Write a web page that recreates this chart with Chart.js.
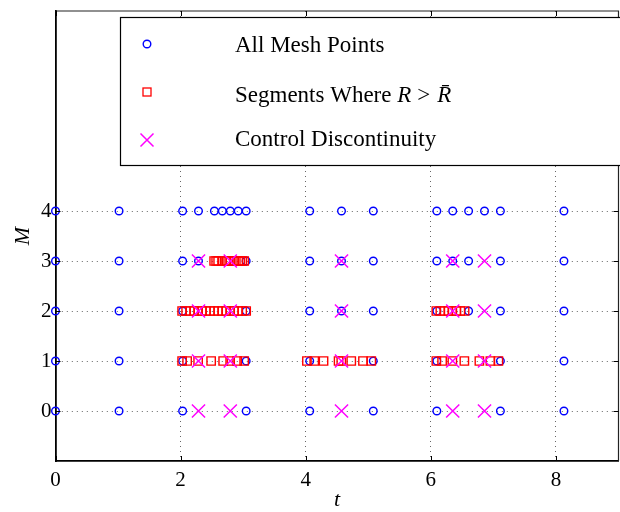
<!DOCTYPE html>
<html>
<head>
<meta charset="utf-8">
<script src="https://cdn.jsdelivr.net/npm/chart.js@4.4.1/dist/chart.umd.min.js"></script>
<style>
  html, body { margin: 0; padding: 0; background: #fff; overflow: hidden; }
  #wrap { width: 620px; height: 512px; }
</style>
</head>
<body>
<div id="wrap"><canvas id="chart" width="620" height="512"></canvas></div>
<script>
// refinement level M and axis ticks
const levels = [0, 1, 2, 3, 4];
const xTicks = [0, 2, 4, 6, 8];

// all mesh points, one list per level
const mesh0 = [0, 1.016, 2.032, 3.048, 4.064, 5.08, 6.096, 7.112, 8.128];
const mesh1 = [0, 1.016, 2.032, 3.048, 4.064, 5.08, 6.096, 7.112, 8.128];
const mesh2 = [0, 1.016, 2.032, 3.048, 4.064, 4.572, 5.08, 6.096, 6.604, 7.112, 8.128];
const mesh3 = [0, 1.016, 2.032, 2.286, 3.048, 4.064, 4.572, 5.08, 6.096, 6.35, 6.604, 7.112, 8.128];
const mesh4 = [0, 1.016, 2.032, 2.286, 2.54, 2.667, 2.794, 2.921, 3.048, 4.064, 4.572, 5.08,
               6.096, 6.35, 6.604, 6.858, 7.112, 8.128];

// segments where R > Rbar
const seg0 = [];
const seg1 = [2.024, 2.104, 2.28, 2.488, 2.68, 2.792, 2.904, 3.016,
              4.019, 4.136, 4.285, 4.525, 4.568, 4.728, 4.915, 5.048,
              6.088, 6.18, 6.344, 6.536, 6.776, 6.952, 7.08];
const seg2 = [2.024, 2.088, 2.152, 2.215, 2.28, 2.343, 2.406, 2.47, 2.536, 2.6, 2.664,
              2.727, 2.792, 2.855, 2.92, 2.984, 3.048,
              6.088, 6.152, 6.216, 6.28, 6.344, 6.408, 6.472, 6.54];
const seg3 = [2.536, 2.568, 2.6, 2.664, 2.727, 2.76, 2.792, 2.855, 2.92, 2.952, 2.984, 3.016];

// control discontinuities
const disc0 = [2.286, 2.794, 4.572, 6.35, 6.858];
const disc1 = [2.286, 2.794, 4.572, 6.35, 6.858];
const disc2 = [2.286, 2.794, 4.572, 6.35, 6.858];
const disc3 = [2.286, 2.794, 4.572, 6.35, 6.858];

const meshRows = [mesh0, mesh1, mesh2, mesh3, mesh4];
const segRows = [seg0, seg1, seg2, seg3];
const discRows = [disc0, disc1, disc2, disc3];

const toPoints = rows => rows.flatMap((row, m) => row.map(t => ({ x: t, y: levels[m] })));

const serif = '"Liberation Serif", "DejaVu Serif", serif';

// MATLAB style box, inward ticks, axis titles and legend
const boxPlugin = {
  id: 'matlabBox',
  afterDraw(chart) {
    const { ctx, chartArea: a, scales: { x, y } } = chart;
    ctx.save();

    ctx.strokeStyle = '#222';
    ctx.lineWidth = 1.2;
    ctx.beginPath();
    ctx.moveTo(a.left, a.top);
    ctx.lineTo(a.right, a.top);
    ctx.lineTo(a.right, a.bottom);
    ctx.stroke();

    ctx.strokeStyle = '#000';
    ctx.lineWidth = 1;
    ctx.beginPath();
    xTicks.forEach(v => {
      const px = Math.round(x.getPixelForValue(v)) + 0.5;
      ctx.moveTo(px, a.bottom); ctx.lineTo(px, a.bottom - 5);
      ctx.moveTo(px, a.top); ctx.lineTo(px, a.top + 5);
    });
    levels.forEach(v => {
      const py = Math.round(y.getPixelForValue(v)) + 0.5;
      ctx.moveTo(a.left, py); ctx.lineTo(a.left + 5, py);
      ctx.moveTo(a.right, py); ctx.lineTo(a.right - 5, py);
    });
    ctx.stroke();

    // axis titles
    ctx.fillStyle = '#000';
    ctx.font = 'italic 22px ' + serif;
    ctx.textAlign = 'center';
    ctx.textBaseline = 'alphabetic';
    ctx.fillText('t', (a.left + a.right) / 2, 506);
    ctx.save();
    ctx.translate(29, (a.top + a.bottom) / 2);
    ctx.rotate(-Math.PI / 2);
    ctx.fillText('M', 0, 0);
    ctx.restore();

    // legend box
    const lx = 120.5, ly = 17.5, lw = 520, lh = 148;
    ctx.fillStyle = '#fff';
    ctx.fillRect(lx, ly, lw, lh);
    ctx.strokeStyle = '#000';
    ctx.lineWidth = 1.2;
    ctx.strokeRect(lx, ly, lw, lh);

    const mx = 147;
    ctx.lineWidth = 1.4;
    ctx.strokeStyle = '#0000ff';
    ctx.beginPath();
    ctx.arc(mx, 44, 3.8, 0, Math.PI * 2);
    ctx.stroke();

    ctx.lineWidth = 1.3;
    ctx.strokeStyle = '#ff0000';
    ctx.strokeRect(mx - 4, 92 - 4, 8, 8);

    ctx.lineWidth = 1.5;
    ctx.strokeStyle = '#ff00ff';
    ctx.beginPath();
    ctx.moveTo(mx - 6.5, 133.5); ctx.lineTo(mx + 6.5, 146.5);
    ctx.moveTo(mx + 6.5, 133.5); ctx.lineTo(mx - 6.5, 146.5);
    ctx.stroke();

    ctx.fillStyle = '#000';
    ctx.textAlign = 'left';
    const tx = 235;
    ctx.font = '23px ' + serif;
    ctx.fillText('All Mesh Points', tx, 52);
    ctx.fillText('Control Discontinuity', tx, 146);

    // "Segments Where R > R-bar" with math spacing round the relation
    let cx = tx;
    const parts = [['Segments Where ', '', 0], ['R', 'italic ', 6], ['>', '', 7], ['R\u0304', 'italic ', 0]];
    parts.forEach(([s, st, gap]) => {
      ctx.font = st + '23px ' + serif;
      ctx.fillText(s, cx, 102);
      cx += ctx.measureText(s).width + gap;
    });

    ctx.restore();
  }
};

new Chart(document.getElementById('chart'), {
  type: 'scatter',
  data: {
    datasets: [
      {
        label: 'All Mesh Points',
        data: toPoints(meshRows),
        pointStyle: 'circle',
        pointRadius: 3.8,
        pointBorderWidth: 1.4,
        borderColor: '#0000ff',
        backgroundColor: 'rgba(0,0,0,0)',
        order: 3,
        clip: false
      },
      {
        label: 'Segments Where R > R\u0304',
        data: toPoints(segRows),
        pointStyle: 'rect',
        pointRadius: 5.9,
        pointBorderWidth: 1.4,
        borderColor: '#ff0000',
        backgroundColor: 'rgba(0,0,0,0)',
        order: 2,
        clip: false
      },
      {
        label: 'Control Discontinuity',
        data: toPoints(discRows),
        pointStyle: 'crossRot',
        pointRadius: 9.3,
        pointBorderWidth: 1.5,
        borderColor: '#ff00ff',
        backgroundColor: 'rgba(0,0,0,0)',
        order: 1,
        clip: false
      }
    ]
  },
  options: {
    responsive: false,
    animation: false,
    devicePixelRatio: 1,
    events: [],
    layout: { autoPadding: false, padding: { top: 11, right: 1.5, left: 0, bottom: 0 } },
    plugins: {
      legend: { display: false },
      tooltip: { enabled: false }
    },
    scales: {
      x: {
        type: 'linear',
        min: 0,
        max: 9,
        afterBuildTicks: s => { s.ticks = xTicks.map(v => ({ value: v })); },
        afterFit: s => { s.height = 51; s.paddingLeft = 0; s.paddingRight = 0; },
        grid: { color: '#666', lineWidth: 1, drawTicks: false },
        border: { display: true, color: '#000', width: 1.8, dash: [1, 4] },
        ticks: { color: '#000', font: { family: serif, size: 21 }, padding: 7, maxRotation: 0 }
      },
      y: {
        type: 'linear',
        min: -1,
        max: 8,
        afterBuildTicks: s => { s.ticks = levels.map(v => ({ value: v })); },
        afterFit: s => { s.width = 55.5; s.paddingTop = 0; s.paddingBottom = 0; },
        grid: { color: '#666', lineWidth: 1, drawTicks: false },
        border: { display: true, color: '#000', width: 1.8, dash: [1, 4] },
        ticks: { color: '#000', font: { family: serif, size: 21 }, padding: 4 }
      }
    }
  },
  plugins: [boxPlugin]
});
</script>
</body>
</html>
